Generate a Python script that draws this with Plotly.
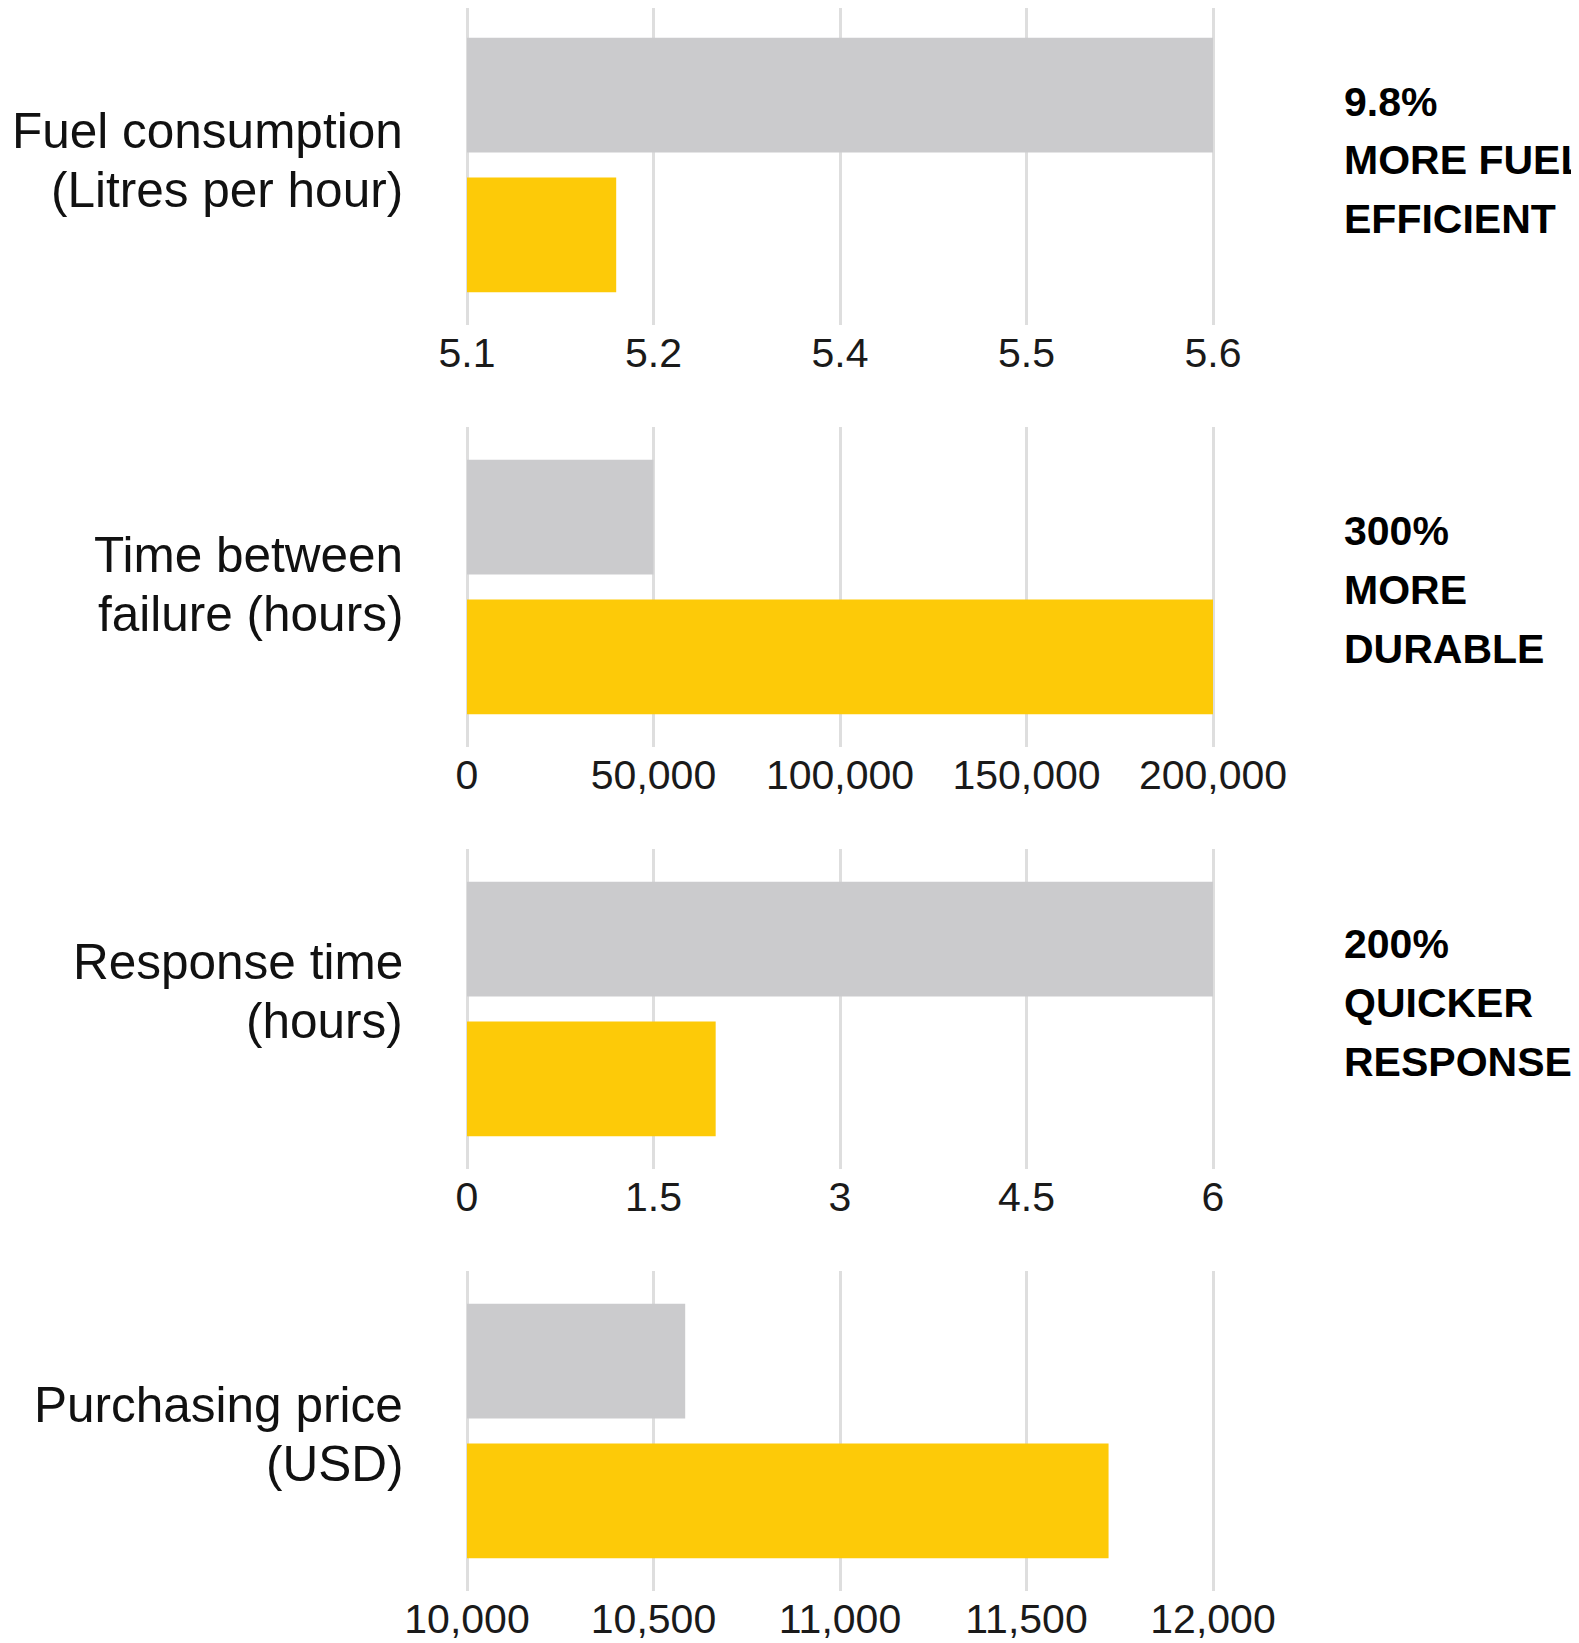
import plotly.graph_objects as go

# ---------------- data ----------------
metrics = ["Fuel consumption", "Time between failure", "Response time", "Purchasing price"]
label_lines = [
    ["Fuel consumption", "(Litres per hour)"],
    ["Time between", "failure (hours)"],
    ["Response time", "(hours)"],
    ["Purchasing price", "(USD)"],
]
grey_values = [5.6, 50000, 6, 10585]
yellow_values = [5.2, 200000, 2, 11720]
axis_ranges = [[5.1, 5.6], [0, 200000], [0, 6], [10000, 12000]]
tick_values = [
    [5.1, 5.225, 5.35, 5.475, 5.6],
    [0, 50000, 100000, 150000, 200000],
    [0, 1.5, 3, 4.5, 6],
    [10000, 10500, 11000, 11500, 12000],
]
tick_labels = [
    ["5.1", "5.2", "5.4", "5.5", "5.6"],
    ["0", "50,000", "100,000", "150,000", "200,000"],
    ["0", "1.5", "3", "4.5", "6"],
    ["10,000", "10,500", "11,000", "11,500", "12,000"],
]
callouts = [
    ["9.8%", "MORE FUEL", "EFFICIENT"],
    ["300%", "MORE", "DURABLE"],
    ["200%", "QUICKER", "RESPONSE"],
    [],
]

# ---------------- layout constants (pixels) ----------------
W, H = 1579, 1643
OFF = 8  # page body margin compensation
X_LEFT, X_RIGHT = 467 - OFF, 1213 - OFF
PAD = 2
PANEL_TOPS = [5 - OFF, 427 - OFF, 849 - OFF, 1271 - OFF]
PANEL_H = 320
Y_LO, Y_HI = 1.645, -0.645
LEFT_LABEL_X = 405 - OFF
LEFT_LABEL_Y = [[130, 189], [554, 613], [961, 1020], [1404, 1463]]
RIGHT_X = 1342 - OFF
RIGHT_Y = [[102, 160, 219], [531, 590, 649], [944, 1003, 1062], []]

GREY = "#CBCBCD"
YELLOW = "#FDCA08"
GRID = "#DEDEDE"
FONT = "Liberation Sans, Arial, sans-serif"

def py(p):
    return 1 - p / H

def pyo(p):
    return 1 - (p - OFF) / H

fig = go.Figure()
layout = dict(
    width=W, height=H,
    margin=dict(l=0, r=0, t=0, b=0, pad=0),
    paper_bgcolor="white", plot_bgcolor="white",
    showlegend=False,
    font=dict(family=FONT, color="#111"),
)
annotations = []
span_px = X_RIGHT - X_LEFT
units_per_px = (Y_LO - Y_HI) / PANEL_H

for i in range(4):
    sfx = "" if i == 0 else str(i + 1)
    xa = "x" + sfx
    ya = "y" + sfx
    lo, hi = axis_ranges[i]
    ext = (hi - lo) * PAD / span_px
    fig.add_trace(go.Bar(x=[grey_values[i] - lo], base=[lo], y=[0], orientation="h",
                         marker=dict(color=GREY, line=dict(width=0)),
                         width=0.82, xaxis=xa, yaxis=ya, hoverinfo="skip"))
    fig.add_trace(go.Bar(x=[yellow_values[i] - lo], base=[lo], y=[1], orientation="h",
                         marker=dict(color=YELLOW, line=dict(width=0)),
                         width=0.82, xaxis=xa, yaxis=ya, hoverinfo="skip"))
    top = PANEL_TOPS[i]
    trim = max(0, -top)
    top_c = top + trim
    layout["xaxis" + sfx] = dict(
        domain=[(X_LEFT - PAD) / W, (X_RIGHT + PAD) / W], anchor=ya,
        range=[lo - ext, hi + ext], tickmode="array",
        tickvals=tick_values[i], ticktext=tick_labels[i],
        showgrid=True, gridcolor=GRID, gridwidth=2.5,
        zeroline=False, showline=False, ticks="", automargin=False,
        tickfont=dict(family=FONT, size=41, color="#1a1a1a"),
        fixedrange=True,
    )
    layout["yaxis" + sfx] = dict(
        domain=[py(top + PANEL_H), py(top_c)], anchor=xa,
        range=[Y_LO, Y_HI + trim * units_per_px], showgrid=False, zeroline=False,
        showticklabels=False, ticks="", fixedrange=True, automargin=False,
    )
    for line, yp in zip(label_lines[i], LEFT_LABEL_Y[i]):
        annotations.append(dict(
            text=line, xref="paper", yref="paper",
            x=LEFT_LABEL_X / W, y=pyo(yp), xanchor="right", yanchor="middle",
            showarrow=False, font=dict(family=FONT, size=49.5, color="#111"),
        ))
    for line, yp in zip(callouts[i], RIGHT_Y[i]):
        annotations.append(dict(
            text="<b>" + line + "</b>", xref="paper", yref="paper",
            x=RIGHT_X / W, y=pyo(yp), xanchor="left", yanchor="middle",
            showarrow=False, font=dict(family=FONT, size=41, color="#000"),
        ))

layout["annotations"] = annotations
fig.update_layout(**layout)
fig.write_html("out.html")
